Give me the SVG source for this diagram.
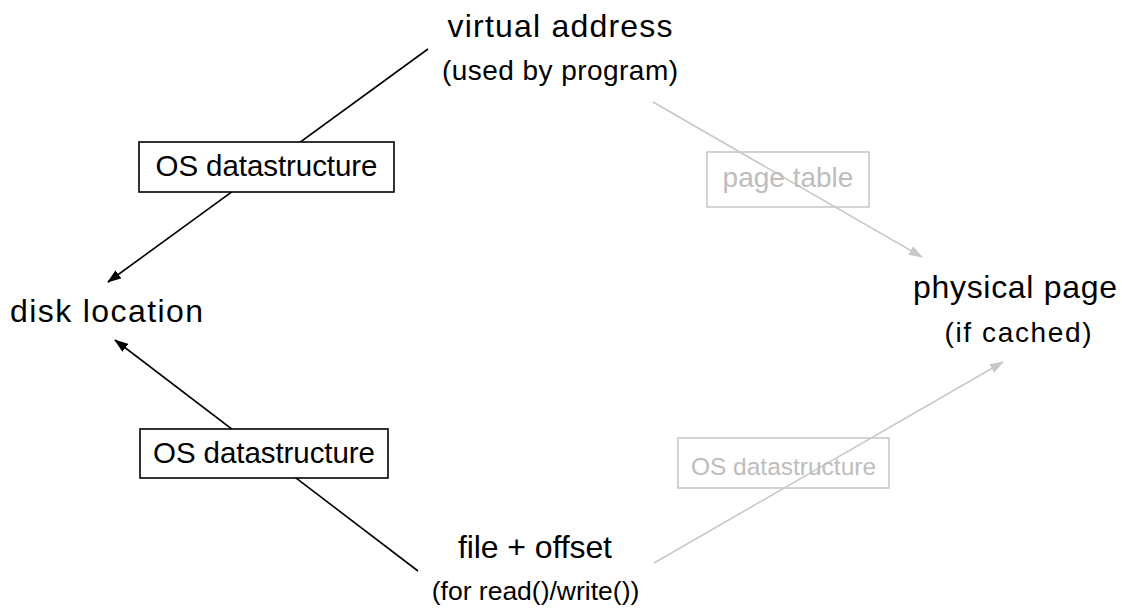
<svg xmlns="http://www.w3.org/2000/svg" width="1122" height="612" viewBox="0 0 1122 612">
  <defs>
    <style>
      text { font-family: "Liberation Sans", Arial, sans-serif; }
      .big { font-size: 32px; fill: #000; }
      .small { font-size: 28px; fill: #000; }
      .lbl { font-size: 29.5px; }
      .box { fill: #fff; stroke: #000; stroke-width: 1.6; }
      .box-dim { fill: none; stroke: #c8c8c8; stroke-width: 1.6; }
      .lbl-dark { fill: #000; }
      .lbl-dim { fill: #bdbdbd; }
      .edge { stroke: #000; stroke-width: 1.6; fill: none; }
      .edge-dim { stroke: #c8c8c8; stroke-width: 1.6; fill: none; }
    </style>
    <marker id="arrow" viewBox="0 0 14 10" refX="13" refY="5" markerWidth="14" markerHeight="10" markerUnits="userSpaceOnUse" orient="auto">
      <path d="M0,0 L14,5 L0,10 z" fill="#000"/>
    </marker>
    <marker id="arrow-dim" viewBox="0 0 14 10" refX="13" refY="5" markerWidth="14" markerHeight="10" markerUnits="userSpaceOnUse" orient="auto">
      <path d="M0,0 L14,5 L0,10 z" fill="#c8c8c8"/>
    </marker>
  </defs>

  <rect width="1122" height="612" fill="#fff"/>

  <!-- connectors -->
  <g id="connectors">
    <line class="edge" x1="428" y1="49" x2="108" y2="282" marker-end="url(#arrow)"/>
    <line class="edge" x1="418" y1="571" x2="115" y2="340" marker-end="url(#arrow)"/>
    <line class="edge-dim" x1="653" y1="102" x2="922" y2="257" marker-end="url(#arrow-dim)"/>
    <line class="edge-dim" x1="654" y1="563" x2="1003" y2="362" marker-end="url(#arrow-dim)"/>
  </g>

  <!-- edge labels -->
  <g id="label-va-disk">
    <rect class="box" x="139" y="142" width="255" height="50"/>
    <text class="lbl lbl-dark" x="266.5" y="176" text-anchor="middle" textLength="222">OS datastructure</text>
  </g>
  <g id="label-file-disk">
    <rect class="box" x="140" y="429" width="248" height="49"/>
    <text class="lbl lbl-dark" x="264" y="463" text-anchor="middle" textLength="222">OS datastructure</text>
  </g>
  <g id="label-page-table">
    <rect class="box-dim" x="707" y="152" width="162" height="55"/>
    <text class="lbl-dim" x="788" y="187" text-anchor="middle" style="font-size:28px">page table</text>
  </g>
  <g id="label-file-phys">
    <rect class="box-dim" x="678" y="438" width="211" height="50"/>
    <text class="lbl-dim" x="783.5" y="475" text-anchor="middle" style="font-size:24.5px">OS datastructure</text>
  </g>

  <!-- nodes -->
  <g id="virtual-address">
    <text class="big" x="560" y="37" text-anchor="middle" textLength="225">virtual address</text>
    <text class="small" x="560" y="80" text-anchor="middle" textLength="236">(used by program)</text>
  </g>
  <g id="disk-location">
    <text class="big" x="10" y="322" textLength="193">disk location</text>
  </g>
  <g id="physical-page">
    <text class="big" x="1015" y="298" text-anchor="middle" textLength="204">physical page</text>
    <text class="small" x="1018" y="342" text-anchor="middle" textLength="147">(if cached)</text>
  </g>
  <g id="file-offset">
    <text class="big" x="535" y="558" text-anchor="middle" textLength="154">file + offset</text>
    <text class="small" x="535.5" y="600" text-anchor="middle" style="font-size:26.5px">(for read()/write())</text>
  </g>
</svg>
